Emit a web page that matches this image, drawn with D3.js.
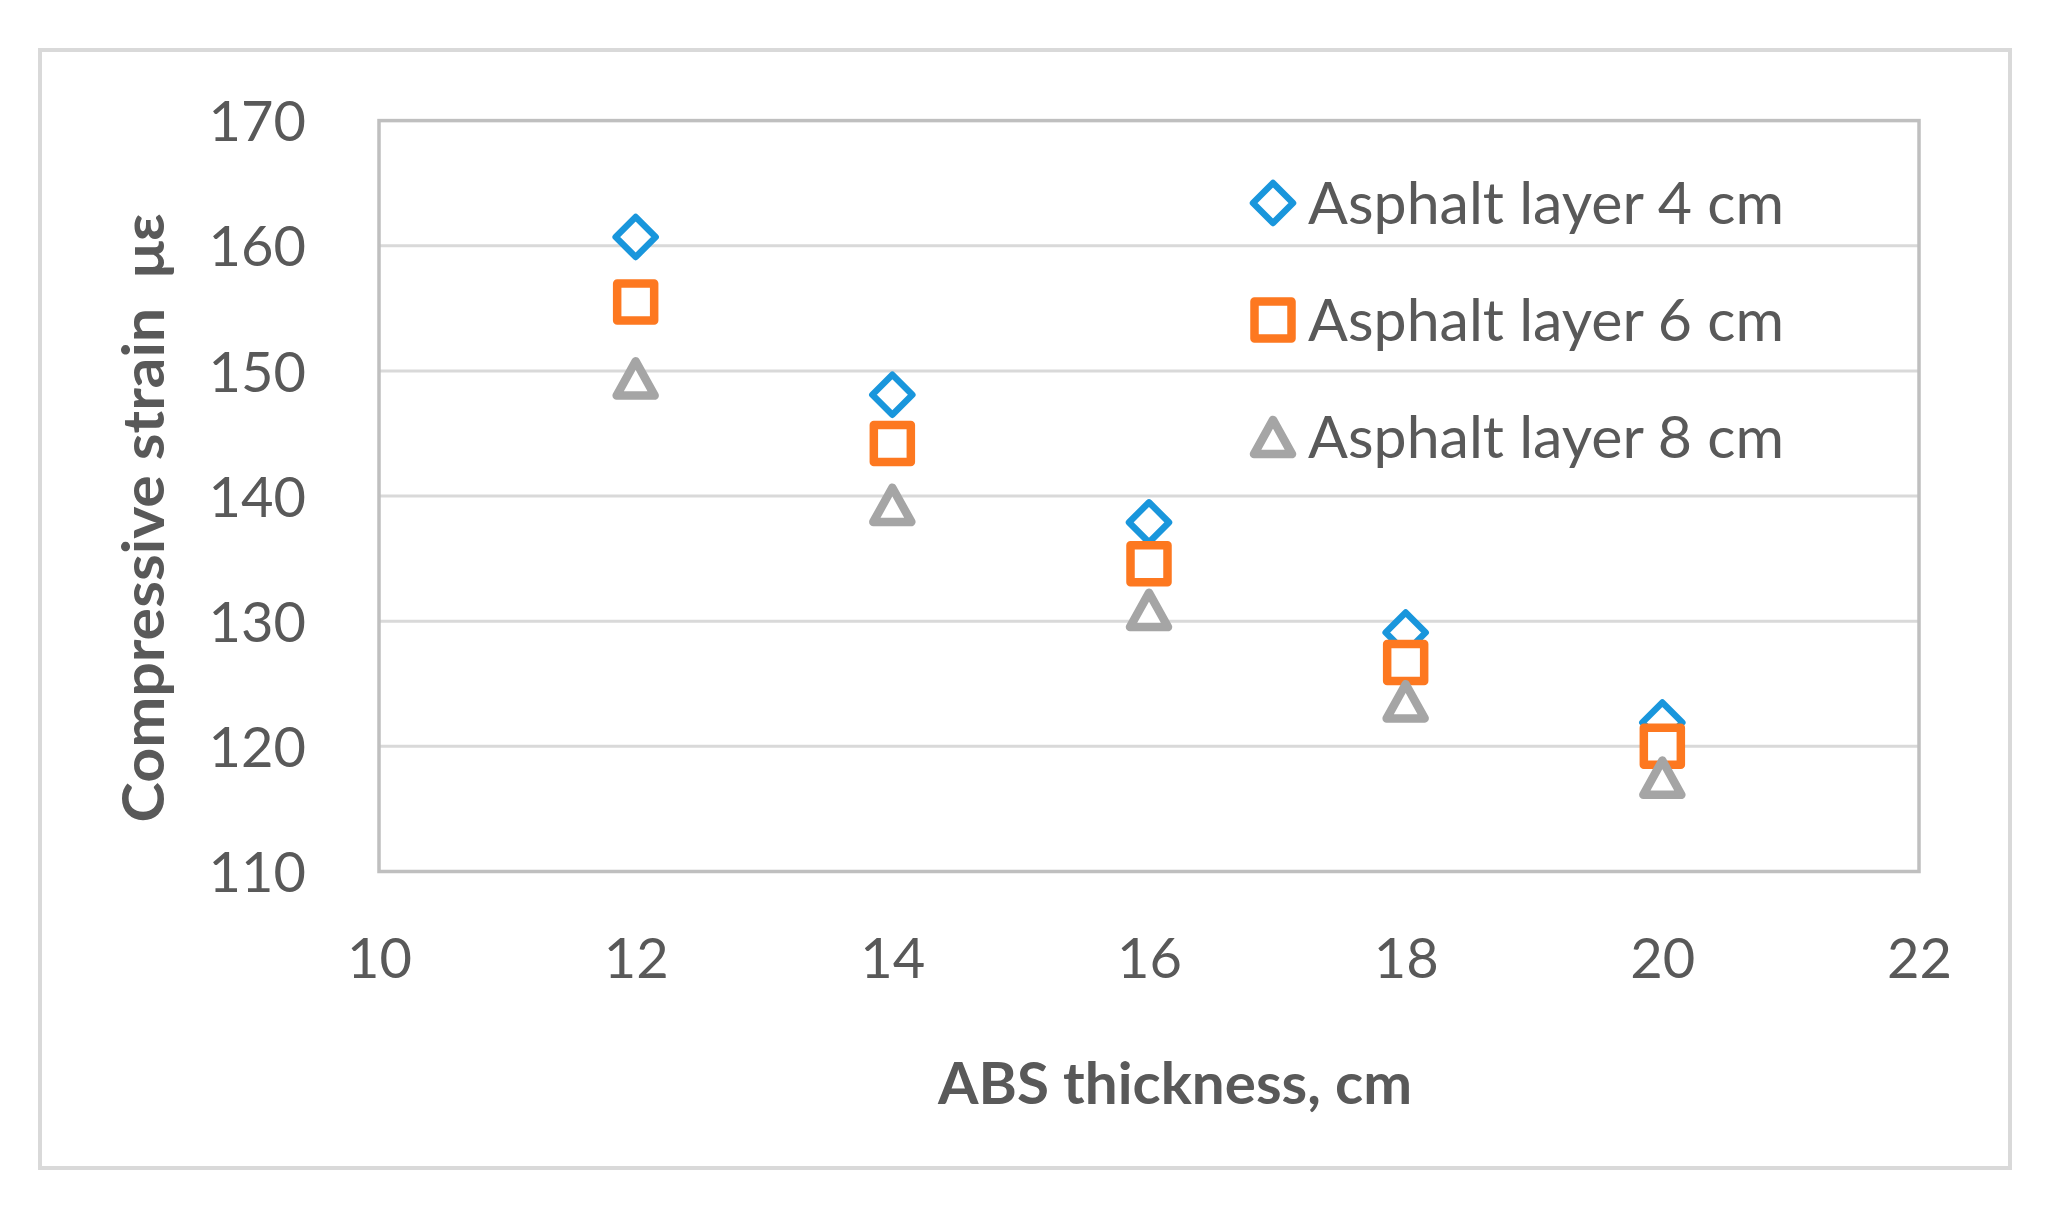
<!DOCTYPE html>
<html>
<head>
<meta charset="utf-8">
<script src="https://cdn.jsdelivr.net/npm/d3@7"></script>
<style>
  html, body { margin: 0; padding: 0; background: #ffffff; }
  svg { display: block; }
  text { font-family: Lato, "Open Sans", sans-serif; fill: #595959; }
</style>
</head>
<body>
<svg id="chart" width="2055" height="1219"></svg>
<script>
// ---- data ----
const thickness = [12, 14, 16, 18, 20];
const seriesNames = ["Asphalt layer 4 cm", "Asphalt layer 6 cm", "Asphalt layer 8 cm"];
const layer4 = [160.7, 148.1, 137.9, 129.1, 121.9];
const layer6 = [155.5, 144.2, 134.6, 126.7, 120.0];
const layer8 = [149.4, 139.3, 130.9, 123.6, 117.5];
const xTicks = [10, 12, 14, 16, 18, 20, 22];
const yTicks = [110, 120, 130, 140, 150, 160, 170];
const xTitle = "ABS thickness, cm";
const yTitle = "Compressive strain\u00a0\u00a0με";

// ---- layout ----
const plot = { left: 379, right: 1919, top: 120.6, bottom: 871.5 };
const svg = d3.select("#chart");

const x = d3.scaleLinear().domain([10, 22]).range([plot.left, plot.right]);
const y = d3.scaleLinear().domain([110, 170]).range([plot.bottom, plot.top]);

const colors = ["#1996dc", "#fd7820", "#a5a5a5"];
const seriesValues = [layer4, layer6, layer8];

// outer chart border
svg.append("rect")
  .attr("x", 40).attr("y", 50).attr("width", 1970).attr("height", 1118)
  .attr("fill", "#ffffff").attr("stroke", "#d9d9d9").attr("stroke-width", 4);

// gridlines
svg.append("g")
  .selectAll("line").data(yTicks.filter(v => v > 110 && v < 170)).join("line")
  .attr("x1", plot.left).attr("x2", plot.right)
  .attr("y1", d => y(d)).attr("y2", d => y(d))
  .attr("stroke", "#d9d9d9").attr("stroke-width", 3);

// plot border
svg.append("rect")
  .attr("x", plot.left).attr("y", plot.top)
  .attr("width", plot.right - plot.left).attr("height", plot.bottom - plot.top)
  .attr("fill", "none").attr("stroke", "#bfbfbf").attr("stroke-width", 3.5);

// axes (labels only)
const xAxis = d3.axisBottom(x).tickValues(xTicks).tickSize(0).tickPadding(0).tickFormat(d3.format("d"));
const gx = svg.append("g").attr("transform", `translate(0,${958})`).call(xAxis);
gx.select(".domain").remove();
gx.selectAll("text").attr("dy", "0.36em").attr("y", 0)
  .style("font-size", "56px").style("fill", "#595959").style("font-family", "Lato");

const yAxis = d3.axisLeft(y).tickValues(yTicks).tickSize(0).tickPadding(0).tickFormat(d3.format("d"));
const gy = svg.append("g").attr("transform", `translate(${306},0)`).call(yAxis);
gy.select(".domain").remove();
gy.selectAll("text").attr("dy", "0.36em").attr("x", 0)
  .style("font-size", "56px").style("fill", "#595959").style("font-family", "Lato");

// marker shapes
const diamondType = { draw(ctx, s) { const r = s; ctx.moveTo(0, -r); ctx.lineTo(r, 0); ctx.lineTo(0, r); ctx.lineTo(-r, 0); ctx.closePath(); } };
const squareType = { draw(ctx, s) { const r = s; ctx.moveTo(-r, -r); ctx.lineTo(r, -r); ctx.lineTo(r, r); ctx.lineTo(-r, r); ctx.closePath(); } };
const triangleType = { draw(ctx, s) { const w = s, h = s * 0.9; ctx.moveTo(0, -h); ctx.lineTo(w, h); ctx.lineTo(-w, h); ctx.closePath(); } };
const shapes = [
  { type: diamondType, size: 20, sw: 6.5 },
  { type: squareType, size: 18.5, sw: 8.5 },
  { type: triangleType, size: 19, sw: 8.5 }
];

seriesValues.forEach((vals, i) => {
  const sh = shapes[i];
  const sym = d3.symbol().type(sh.type).size(sh.size);
  svg.append("g").selectAll("path").data(vals.map((v, j) => ({ x: thickness[j], y: v }))).join("path")
    .attr("d", sym)
    .attr("transform", d => `translate(${x(d.x)},${y(d.y)})`)
    .attr("fill", "#ffffff")
    .attr("stroke", colors[i])
    .attr("stroke-width", sh.sw)
    .attr("stroke-linejoin", "round");
});

// legend
const legendY = [203, 320, 437];
const legend = svg.append("g");
seriesNames.forEach((name, i) => {
  const sh = shapes[i];
  const sym = d3.symbol().type(sh.type).size(sh.size);
  legend.append("path").attr("d", sym)
    .attr("transform", `translate(1273,${legendY[i]})`)
    .attr("fill", "#ffffff").attr("stroke", colors[i]).attr("stroke-width", sh.sw)
    .attr("stroke-linejoin", "round");
  legend.append("text").attr("x", 1308).attr("y", legendY[i]).attr("dy", "0.36em")
    .attr("textLength", 476).attr("lengthAdjust", "spacingAndGlyphs")
    .style("font-size", "58px").text(name);
});

// axis titles
svg.append("text").attr("x", 1175).attr("y", 1104)
  .attr("text-anchor", "middle").style("font-size", "58px").style("font-weight", "bold")
  .attr("textLength", 474).attr("lengthAdjust", "spacingAndGlyphs")
  .text(xTitle);
svg.append("text").attr("transform", `translate(164,518) rotate(-90)`)
  .attr("text-anchor", "middle").style("font-size", "58px").style("font-weight", "bold")
  .attr("textLength", 609).attr("lengthAdjust", "spacingAndGlyphs")
  .text(yTitle);
</script>
</body>
</html>
